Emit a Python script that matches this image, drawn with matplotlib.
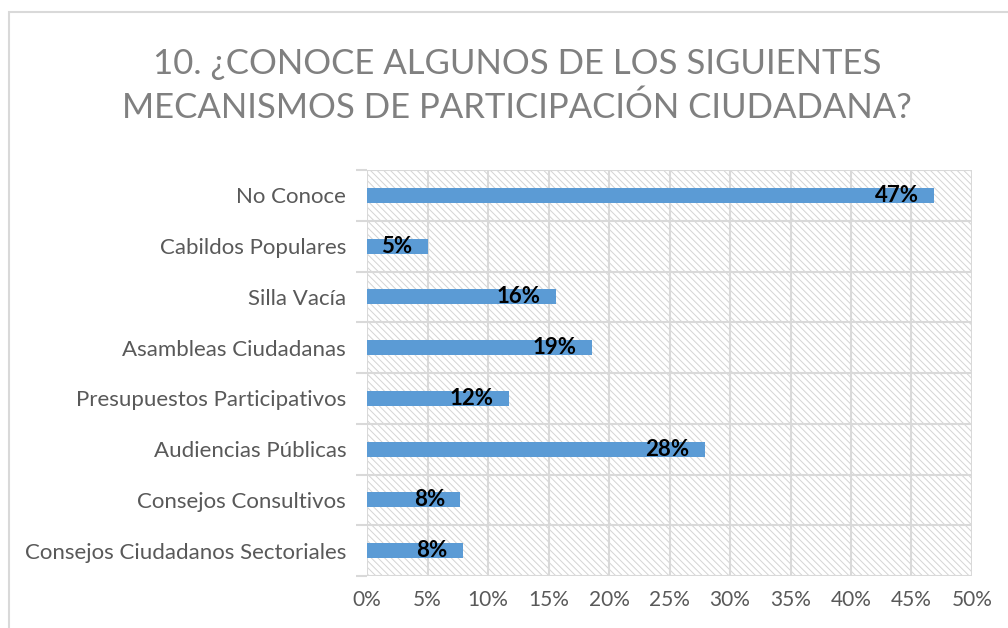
import numpy as np
import matplotlib.pyplot as plt
from matplotlib.patches import Rectangle
from matplotlib.ticker import PercentFormatter

categorias = ["No Conoce", "Cabildos Populares", "Silla Vacía", "Asambleas Ciudadanas",
              "Presupuestos Participativos", "Audiencias Públicas", "Consejos Consultivos",
              "Consejos Ciudadanos Sectoriales"]
valores = [46.9, 5.0, 15.6, 18.6, 11.7, 27.9, 7.7, 7.9]
etiquetas = ["47%", "5%", "16%", "19%", "12%", "28%", "8%", "8%"]
titulo = "10. ¿CONOCE ALGUNOS DE LOS SIGUIENTES\nMECANISMOS DE PARTICIPACIÓN CIUDADANA?"

plt.rcParams['font.family'] = ['Lato', 'DejaVu Sans']
plt.rcParams['hatch.linewidth'] = 0.7
plt.rcParams['hatch.color'] = '#d4d4d4'

fig = plt.figure(figsize=(10.08, 6.28), dpi=100)
ax = fig.add_axes([367/1008, 1-576/628, 605/1008, 406/628])

# borde del grafico (solo se ve izquierda y arriba)
fig.patches.append(Rectangle((9/1008, -0.2), 1.2, 1.2 - 12/628, transform=fig.transFigure,
                             fill=False, edgecolor='#d9d9d9', lw=1.5))

# fondo rayado
ax.add_patch(Rectangle((0, 0), 1, 1, transform=ax.transAxes, facecolor='white',
                       edgecolor='#d4d4d4', hatch='\\\\\\\\\\', lw=0, zorder=0))

y = np.arange(len(categorias))
ax.barh(y, valores, height=0.3, color='#5b9bd5', zorder=3)
for yi, v, t in zip(y, valores, etiquetas):
    ax.annotate(t, (v, yi), xytext=(-11, 0), textcoords='offset points', ha='right',
                va='center', fontsize=16, fontweight='bold', color='black', zorder=4)

ax.set_xlim(0, 50)
ax.set_ylim(len(categorias) - 0.5, -0.5)
ax.set_xticks(np.arange(0, 51, 5))
ax.xaxis.set_major_formatter(PercentFormatter(decimals=0))
ax.set_yticks(y)
ax.set_yticklabels(categorias)
ax.set_yticks(np.arange(-0.5, len(categorias)), minor=True)
ax.tick_params(axis='y', which='major', length=0, pad=15, labelsize=16, labelcolor='#595959')
ax.tick_params(axis='y', which='minor', length=8, color='#d9d9d9', width=1.5)
ax.tick_params(axis='x', length=0, pad=10, labelsize=15, labelcolor='#595959')
ax.grid(axis='x', color='#d9d9d9', lw=1.5, zorder=1)
ax.grid(axis='y', which='minor', color='#d9d9d9', lw=1.5, zorder=1)
ax.set_axisbelow(True)
for s in ax.spines.values():
    s.set_visible(False)

fig.text(517/1008, 1-86/628, titulo, ha='center', va='center', fontsize=25,
         color='#808080', linespacing=1.45)

fig.savefig("out.png", dpi=100, facecolor='white')
